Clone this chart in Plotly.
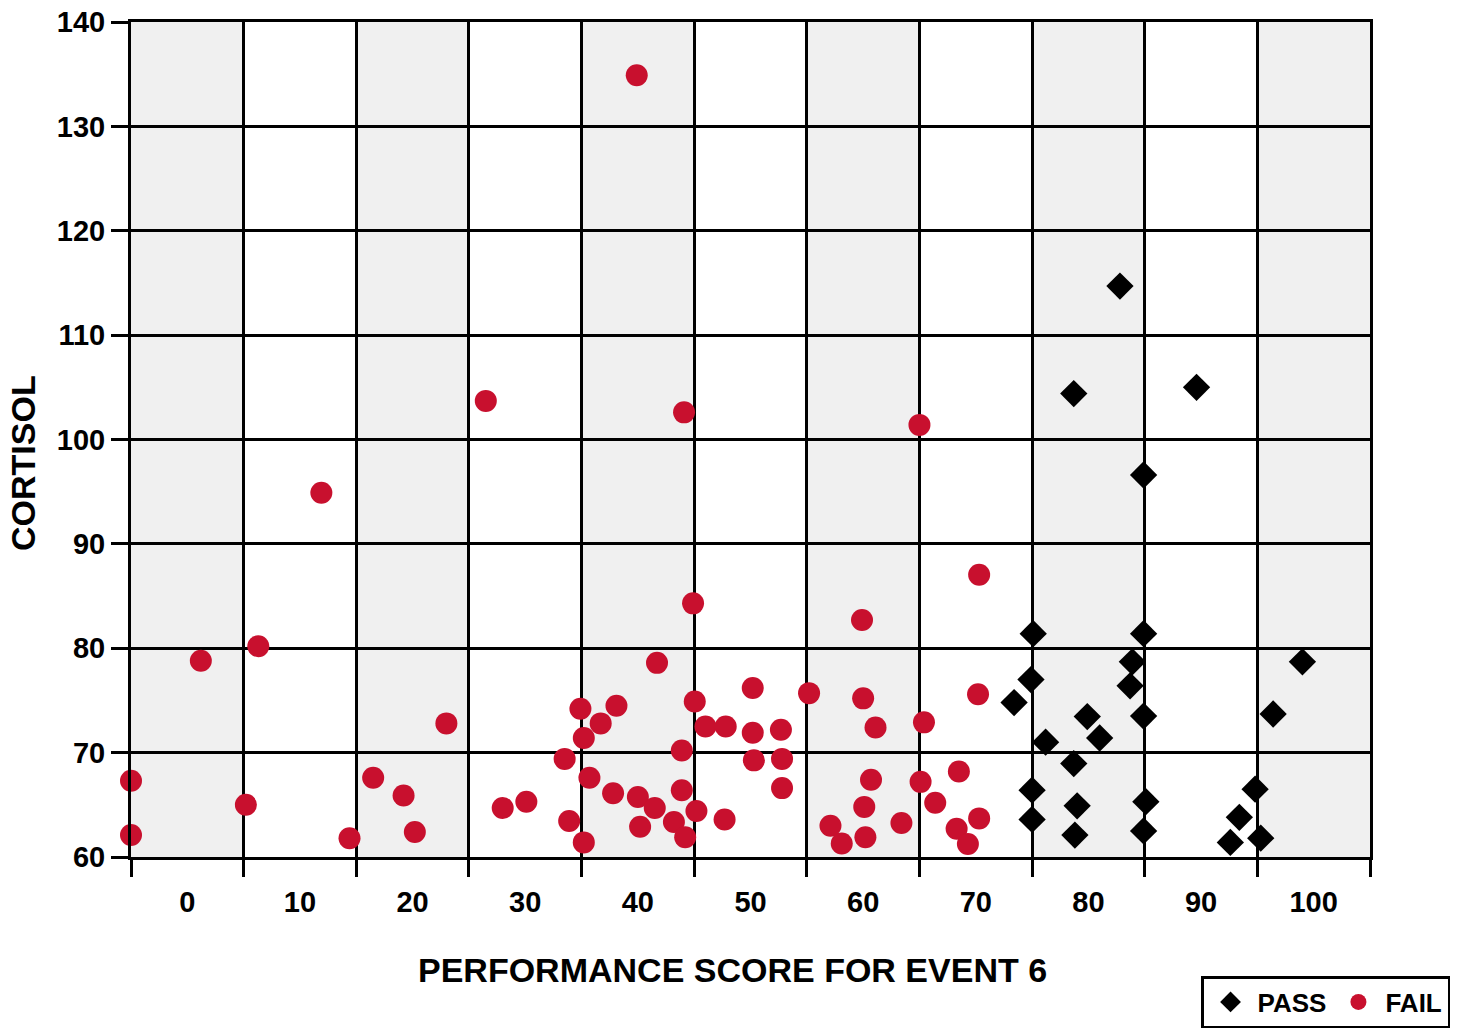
import plotly.graph_objects as go

# Performance score (x) and cortisol (y) for each outcome group
pass_score = [75.1, 74.9, 73.4, 76.2, 75.0, 75.0, 84.9, 83.9, 83.7, 84.9, 79.9, 81.0,
              78.7, 79.0, 78.8, 85.1, 84.9, 99.0, 96.4, 94.8, 93.4, 92.6, 95.3,
              82.8, 78.7, 89.6, 84.9]
pass_cortisol = [81.4, 77.0, 74.8, 71.0, 66.4, 63.6, 81.4, 78.7, 76.4, 73.5, 73.45, 71.4,
                 68.95, 64.9, 62.1, 65.3, 62.5, 78.7, 73.7, 66.5, 63.8, 61.4, 61.8,
                 114.7, 104.4, 105.0, 96.6]

fail_score = [1.2, 6.3, -5.0, -5.0, 5.2, 16.5, 19.2, 20.2, 14.4, 23.0,
              44.9, 41.7, 34.9, 38.1, 36.7, 35.2, 45.05, 46.0, 47.8, 33.5,
              43.9, 35.7, 37.8, 40.0, 43.9, 41.5, 45.2, 47.7, 43.2, 44.2,
              40.2, 33.9, 35.2, 28.0, 30.1, 70.3, 59.9, 50.2, 55.2, 60.0,
              61.1, 65.4, 70.2, 50.2, 52.7, 50.3, 52.8, 52.8, 60.7, 60.1,
              60.2, 57.1, 58.1, 63.4, 65.1, 66.4, 68.5, 70.3, 68.3, 69.3,
              65.0, 39.9, 26.5, 44.1, 11.9]
fail_cortisol = [78.8, 80.2, 67.3, 62.1, 65.0, 67.6, 65.9, 62.4, 61.8, 72.8,
                 84.3, 78.6, 74.2, 74.5, 72.8, 71.4, 74.9, 72.5, 72.5, 69.4,
                 70.2, 67.6, 66.1, 65.75, 66.4, 64.7, 64.4, 63.6, 63.35, 61.9,
                 62.9, 63.45, 61.4, 64.7, 65.3, 87.05, 82.7, 76.2, 75.7, 75.2,
                 72.4, 72.9, 75.6, 71.9, 72.2, 69.26, 69.4, 66.6, 67.4, 64.8,
                 61.9, 63.0, 61.3, 63.26, 67.2, 65.2, 68.2, 63.7, 62.7, 61.25,
                 101.4, 134.9, 103.7, 102.6, 94.9]

x_tick_values = [0, 10, 20, 30, 40, 50, 60, 70, 80, 90, 100]
x_tick_labels = ["0", "10", "20", "30", "40", "50", "60", "70", "80", "90", "100"]
x_bin_edges = [-5, 5, 15, 25, 35, 45, 55, 65, 75, 85, 95, 105]
y_tick_values = [60, 70, 80, 90, 100, 110, 120, 130, 140]

RED = "#C8102E"
FONT = "Liberation Sans, Arial, sans-serif"

fig = go.Figure()

fig.add_trace(go.Scatter(
    x=pass_score, y=pass_cortisol, mode="markers", name="PASS",
    marker=dict(symbol="diamond", size=21, color="black", line=dict(width=0)),
    cliponaxis=False,
))
fig.add_trace(go.Scatter(
    x=fail_score, y=fail_cortisol, mode="markers", name="FAIL",
    marker=dict(symbol="circle", size=22, color=RED, line=dict(width=0)),
    cliponaxis=False,
))

# alternating shaded columns behind the grid
shapes = []
for i in range(0, len(x_bin_edges) - 1, 2):
    shapes.append(dict(
        type="rect", xref="x", yref="paper",
        x0=x_bin_edges[i], x1=x_bin_edges[i + 1], y0=0, y1=1,
        fillcolor="#F0F0F0", line=dict(width=0), layer="below",
    ))

title_font = dict(family=FONT, size=34, color="black", weight="bold")

fig.update_layout(
    width=1458, height=1030,
    margin=dict(l=131, r=88, t=22, b=173, autoexpand=False),
    paper_bgcolor="white", plot_bgcolor="white",
    font=dict(family=FONT, color="black", size=29, weight="bold"),
    shapes=shapes,
    showlegend=True,
    legend=dict(
        orientation="h", x=1.0646, xanchor="right", y=-0.2048, yanchor="bottom",
        bordercolor="black", borderwidth=2.5, bgcolor="white",
        font=dict(family=FONT, size=26, color="black", weight="bold"),
        itemwidth=44,
    ),
    annotations=[
        dict(text="PERFORMANCE SCORE FOR EVENT 6", xref="paper", yref="paper",
             x=(732 - 131) / 1239, y=(857 - 970) / 835,
             xanchor="center", yanchor="middle", showarrow=False, font=title_font),
        dict(text="CORTISOL", xref="paper", yref="paper",
             x=(23 - 131) / 1239, y=(857 - 463) / 835, textangle=-90,
             xanchor="center", yanchor="middle", showarrow=False, font=title_font),
    ],
)

fig.update_xaxes(
    range=[-5, 105],
    tickmode="array", tickvals=x_tick_values, ticktext=x_tick_labels,
    ticks="outside", ticklen=17, tickcolor="rgba(0,0,0,0)",
    showgrid=False, zeroline=False,
    showline=True, mirror=True, linecolor="black", linewidth=3,
    tickfont=dict(family=FONT, size=29, color="black", weight="bold"),
    minor=dict(
        tickmode="array", tickvals=x_bin_edges,
        ticks="outside", ticklen=17, tickwidth=3, tickcolor="black",
        showgrid=True, gridcolor="black", gridwidth=3,
    ),
    automargin=False,
)

fig.update_yaxes(
    range=[60, 140],
    tickmode="array", tickvals=y_tick_values,
    ticks="outside", ticklen=17, tickwidth=3, tickcolor="black",
    showgrid=True, gridcolor="black", gridwidth=3, zeroline=False,
    showline=True, mirror=True, linecolor="black", linewidth=3,
    tickfont=dict(family=FONT, size=29, color="black", weight="bold"),
    automargin=False,
)

fig.write_html("out.html")
